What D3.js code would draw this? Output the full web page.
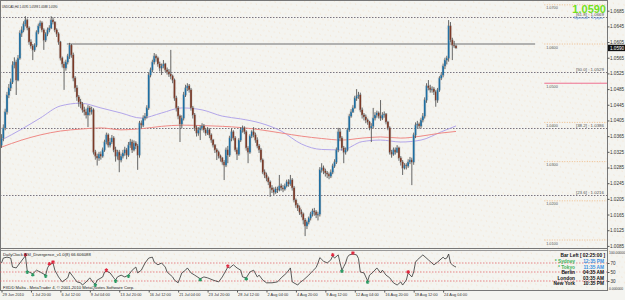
<!DOCTYPE html>
<html>
<head>
<meta charset="utf-8">
<style>
  body { margin: 0; background: #f4f4f0; }
  text { font-family: "Liberation Sans", Arial, sans-serif; }
</style>
<script src="https://d3js.org/d3.v7.min.js"></script>
</head>
<body>
<script>

// DATA: USDCAD H4, one value per bar (open = previous close)

var firstOpen = 1.0342;

var closes = [
1.0360,1.0386,1.0427,1.0470,1.0488,1.0503,1.0546,1.0554,1.0508,1.0564,
1.0628,1.0636,1.0651,1.0661,1.0641,1.0605,1.0595,1.0585,1.0597,1.0630,
1.0646,1.0654,1.0636,1.0610,1.0626,1.0636,1.0641,1.0661,1.0656,1.0636,
1.0626,1.0605,1.0564,1.0549,1.0539,1.0554,1.0569,1.0597,1.0572,1.0513,
1.0488,1.0465,1.0452,1.0447,1.0432,1.0427,1.0419,1.0437,1.0427,1.0432,
1.0324,1.0314,1.0309,1.0319,1.0314,1.0330,1.0350,1.0368,1.0342,1.0350,
1.0360,1.0330,1.0314,1.0324,1.0304,1.0314,1.0322,1.0330,1.0317,1.0342,
1.0350,1.0330,1.0347,1.0340,1.0317,1.0398,1.0393,1.0411,1.0416,1.0437,
1.0521,1.0534,1.0554,1.0569,1.0564,1.0549,1.0539,1.0544,1.0549,1.0534,
1.0529,1.0523,1.0518,1.0508,1.0462,1.0437,1.0416,1.0396,1.0411,1.0470,
1.0488,1.0493,1.0483,1.0437,1.0419,1.0386,1.0373,1.0381,1.0386,1.0391,
1.0381,1.0373,1.0381,1.0368,1.0355,1.0342,1.0330,1.0324,1.0314,1.0309,
1.0299,1.0291,1.0330,1.0317,1.0360,1.0376,1.0360,1.0330,1.0319,1.0355,
1.0381,1.0386,1.0376,1.0335,1.0324,1.0365,1.0376,1.0368,1.0355,1.0340,
1.0330,1.0304,1.0273,1.0266,1.0258,1.0248,1.0233,1.0228,1.0222,1.0230,
1.0228,1.0238,1.0233,1.0230,1.0238,1.0248,1.0243,1.0253,1.0233,1.0202,
1.0189,1.0182,1.0171,1.0166,1.0151,1.0136,1.0146,1.0156,1.0166,1.0174,
1.0171,1.0164,1.0166,1.0279,1.0284,1.0276,1.0271,1.0268,1.0263,1.0273,
1.0289,1.0299,1.0330,1.0376,1.0360,1.0335,1.0324,1.0330,1.0381,1.0416,
1.0427,1.0437,1.0462,1.0467,1.0470,1.0432,1.0419,1.0414,1.0406,1.0401,
1.0386,1.0391,1.0411,1.0419,1.0424,1.0416,1.0411,1.0419,1.0421,1.0401,
1.0386,1.0324,1.0319,1.0330,1.0324,1.0335,1.0309,1.0299,1.0284,1.0291,
1.0289,1.0299,1.0304,1.0299,1.0368,1.0393,1.0396,1.0391,1.0406,1.0416,
1.0457,1.0493,1.0488,1.0483,1.0485,1.0478,1.0457,1.0483,1.0513,1.0521,
1.0544,1.0559,1.0564,1.0646,1.0610,1.0597,1.0595,1.0590];

var highs = [
1.0370,1.0395,1.0435,1.0478,1.0498,1.0512,1.0556,1.0566,1.0560,1.0572,
1.0635,1.0645,1.0658,1.0671,1.0665,1.0645,1.0612,1.0600,1.0602,1.0635,
1.0652,1.0660,1.0658,1.0640,1.0630,1.0642,1.0648,1.0671,1.0668,1.0658,
1.0640,1.0630,1.0608,1.0568,1.0555,1.0560,1.0575,1.0603,1.0600,1.0578,
1.0518,1.0495,1.0470,1.0460,1.0452,1.0440,1.0435,1.0444,1.0442,1.0440,
1.0436,1.0330,1.0320,1.0325,1.0326,1.0336,1.0356,1.0374,1.0372,1.0360,
1.0368,1.0365,1.0338,1.0330,1.0330,1.0320,1.0330,1.0338,1.0335,1.0350,
1.0358,1.0356,1.0354,1.0352,1.0345,1.0404,1.0405,1.0418,1.0424,1.0444,
1.0528,1.0540,1.0560,1.0577,1.0574,1.0568,1.0555,1.0550,1.0559,1.0552,
1.0540,1.0536,1.0585,1.0522,1.0512,1.0468,1.0442,1.0420,1.0418,1.0478,
1.0496,1.0500,1.0498,1.0488,1.0442,1.0424,1.0392,1.0388,1.0392,1.0398,
1.0396,1.0386,1.0388,1.0385,1.0372,1.0358,1.0345,1.0334,1.0328,1.0318,
1.0312,1.0304,1.0336,1.0340,1.0366,1.0384,1.0380,1.0365,1.0336,1.0360,
1.0388,1.0392,1.0390,1.0380,1.0340,1.0370,1.0380,1.0388,1.0374,1.0362,
1.0345,1.0335,1.0308,1.0280,1.0272,1.0262,1.0252,1.0240,1.0234,1.0236,
1.0236,1.0266,1.0244,1.0240,1.0244,1.0254,1.0255,1.0266,1.0258,1.0238,
1.0206,1.0194,1.0188,1.0178,1.0170,1.0156,1.0150,1.0160,1.0172,1.0180,
1.0182,1.0176,1.0172,1.0286,1.0296,1.0290,1.0282,1.0276,1.0272,1.0280,
1.0295,1.0306,1.0336,1.0386,1.0384,1.0365,1.0340,1.0336,1.0386,1.0422,
1.0434,1.0444,1.0468,1.0485,1.0478,1.0476,1.0438,1.0424,1.0420,1.0410,
1.0404,1.0398,1.0437,1.0426,1.0430,1.0428,1.0457,1.0426,1.0428,1.0424,
1.0404,1.0390,1.0330,1.0336,1.0336,1.0342,1.0338,1.0314,1.0304,1.0296,
1.0296,1.0306,1.0312,1.0310,1.0374,1.0400,1.0404,1.0400,1.0412,1.0424,
1.0464,1.0500,1.0508,1.0496,1.0492,1.0490,1.0482,1.0488,1.0518,1.0528,
1.0550,1.0565,1.0570,1.0661,1.0656,1.0616,1.0608,1.0598];

var lows = [
1.0335,1.0352,1.0380,1.0420,1.0462,1.0480,1.0498,1.0538,1.0470,1.0505,
1.0560,1.0618,1.0630,1.0645,1.0635,1.0598,1.0588,1.0559,1.0580,1.0592,
1.0625,1.0640,1.0630,1.0585,1.0605,1.0620,1.0630,1.0638,1.0650,1.0630,
1.0618,1.0598,1.0558,1.0540,1.0483,1.0532,1.0548,1.0562,1.0565,1.0505,
1.0478,1.0455,1.0440,1.0436,1.0425,1.0418,1.0410,1.0388,1.0418,1.0420,
1.0318,1.0305,1.0290,1.0302,1.0305,1.0310,1.0325,1.0344,1.0336,1.0336,
1.0345,1.0324,1.0300,1.0305,1.0273,1.0298,1.0308,1.0315,1.0306,1.0312,
1.0335,1.0322,1.0326,1.0332,1.0279,1.0310,1.0385,1.0388,1.0405,1.0410,
1.0432,1.0515,1.0528,1.0548,1.0555,1.0542,1.0530,1.0521,1.0538,1.0528,
1.0522,1.0516,1.0510,1.0500,1.0455,1.0428,1.0408,1.0350,1.0385,1.0405,
1.0465,1.0480,1.0476,1.0430,1.0410,1.0378,1.0364,1.0366,1.0355,1.0380,
1.0374,1.0366,1.0368,1.0360,1.0348,1.0336,1.0322,1.0304,1.0308,1.0300,
1.0292,1.0253,1.0286,1.0296,1.0312,1.0352,1.0354,1.0325,1.0304,1.0315,
1.0350,1.0374,1.0370,1.0328,1.0296,1.0320,1.0360,1.0362,1.0348,1.0334,
1.0322,1.0298,1.0268,1.0258,1.0250,1.0240,1.0210,1.0220,1.0215,1.0218,
1.0220,1.0224,1.0226,1.0222,1.0226,1.0234,1.0236,1.0238,1.0226,1.0196,
1.0182,1.0174,1.0164,1.0158,1.0140,1.0110,1.0128,1.0140,1.0150,1.0160,
1.0162,1.0156,1.0150,1.0160,1.0272,1.0268,1.0262,1.0258,1.0255,1.0258,
1.0268,1.0284,1.0294,1.0324,1.0352,1.0328,1.0296,1.0318,1.0326,1.0376,
1.0412,1.0424,1.0435,1.0455,1.0460,1.0426,1.0410,1.0405,1.0398,1.0394,
1.0380,1.0350,1.0385,1.0405,1.0412,1.0410,1.0404,1.0406,1.0412,1.0395,
1.0380,1.0318,1.0310,1.0315,1.0318,1.0322,1.0302,1.0290,1.0266,1.0280,
1.0280,1.0284,1.0294,1.0240,1.0292,1.0360,1.0386,1.0384,1.0386,1.0400,
1.0410,1.0450,1.0482,1.0476,1.0476,1.0470,1.0440,1.0450,1.0478,1.0508,
1.0515,1.0536,1.0548,1.0555,1.0604,1.0559,1.0590,1.0588];

// moving averages, read at these bars
var maBars = [0, 11, 21, 32, 43, 54, 65, 76, 87, 98, 109, 120, 130, 141, 152, 163, 174, 185, 196, 206, 217, 228, 239, 247];
var maSlow = [1.0355,1.0383,1.0411,1.0442,1.0449,1.0437,1.0424,1.0411,1.0424,1.0437,1.0432,1.0416,1.0409,1.0398,1.0378,1.0345,1.0331,1.0330,1.0351,1.0355,1.0350,1.0355,1.0376,1.0391];
var maRed  = [1.0337,1.0355,1.0368,1.0378,1.0383,1.0386,1.0381,1.0384,1.0390,1.0393,1.0392,1.0390,1.0387,1.0381,1.0373,1.0365,1.0359,1.0355,1.0360,1.0363,1.0360,1.0365,1.0373,1.0377];

// price levels
var priceTicks = [1.0685,1.0645,1.0605,1.0565,1.0525,1.0485,1.0445,1.0405,1.0365,1.0325,1.0285,1.0245,1.0205,1.0165,1.0125,1.0085];
var fibLevels = [1.0669, 1.0529, 1.0386, 1.0216];
var fibNames = ["[61.8] : 1.0669", "[50.0] : 1.0529", "[38.2] : 1.0386", "[23.6] : 1.0216"];
var roundLevels = [1.0700, 1.0600, 1.0400, 1.0300, 1.0200, 1.0100];
var pinkLevel = 1.0500;
var grayLevel = 1.0600;
var lastPrice = 1.0590;

// RSI_Divergence (bar, value)
var rsiPoints = [[0,70],[1,81],[3,83],[5,81],[6,61],[8,59],[10,70],[13,86],[14,52],[15,50],[17,46],[19,54],[21,50],[24,43],[25,59],[26,66],[28,70],[29,54],
[31,39],[33,28],[36,37],[37,50],[39,39],[41,28],[43,26],[44,21],[46,28],[48,37],[50,26],[51,23],[52,32],[55,39],[56,50],[57,52],[59,48],[61,37],[62,32],
[63,39],[65,43],[67,39],[69,43],[71,54],[73,61],[74,48],[76,54],[78,70],[80,81],[82,83],[83,72],[85,66],[87,70],[89,61],[90,50],[93,39],[94,32],[96,26],
[98,48],[100,54],[101,59],[103,48],[105,43],[108,35],[110,39],[112,37],[115,32],[118,28],[120,39],[123,61],[124,59],[126,66],[128,59],[130,54],[131,39],
[133,37],[135,50],[137,54],[139,39],[140,43],[142,32],[144,26],[147,26],[150,28],[152,37],[155,48],[157,59],[158,28],[161,21],[162,26],[164,32],[167,43],
[169,52],[171,60],[172,70],[173,82],[174,78],[175,74],[177,70],[179,77],[180,86],[181,81],[183,88],[184,70],[185,54],[186,62],[187,70],[188,83],[189,88],
[191,90],[193,88],[194,80],[195,50],[197,48],[199,30],[200,43],[202,50],[204,59],[206,48],[207,54],[209,43],[211,37],[213,26],[215,21],[217,28],[218,21],
[220,32],[221,48],[223,39],[224,50],[225,72],[226,77],[229,88],[232,77],[235,66],[237,72],[240,83],[241,79],[242,81],[243,90],[244,70],[245,66],[246,63],[247,61]];
var redMarks = [[13,86],[26,66],[28,70],[57,52],[123,61],[180,86],[191,90],[221,48]];
var greenMarks = [[14,52],[17,46],[24,43],[51,23],[62,32],[69,43],[108,35],[133,37],[185,54],[199,30]];
var rsiLevels = [70, 50, 30];

// date labels every 16 bars
var dateBars = [0,16,32,48,64,80,96,112,128,144,160,176,192,208,224,240];
var dateLabels = ["29 Jun 2010","1 Jul 20:00","6 Jul 12:00","9 Jul 04:00","13 Jul 20:00","16 Jul 12:00","21 Jul 04:00","23 Jul 20:00",
  "28 Jul 12:00","2 Aug 04:00","4 Aug 20:00","9 Aug 12:00","12 Aug 04:00","16 Aug 20:00","19 Aug 12:00","24 Aug 04:00"];

// clock texts
var clockNames = ["* Sydney", "* Tokyo", "Berlin", "London", "New York"];
var clockTimes = ["12:35 PM", "11:35 AM", "04:35 AM", "03:35 AM", "10:35 PM"];

// SETUP

var width = 625, height = 300;
var axisX = 607, mainBottom = 248;

var svg = d3.select("body").append("svg").attr("width", width).attr("height", height);

var x = d3.scaleLinear().domain([0, 247]).range([1.5, 456]);
var y = d3.scaleLinear().domain([1.0085, 1.0685]).range([245.9, 10.7]);
var yr = d3.scaleLinear().domain([0, 100]).range([294.5, 249.5]);

var defs = svg.append("defs");
var pat = defs.append("pattern").attr("id", "dots").attr("patternUnits", "userSpaceOnUse")
    .attr("width", 9).attr("height", 6).attr("patternTransform", "rotate(-25)");
pat.append("circle").attr("cx", 1).attr("cy", 1).attr("r", 0.45).attr("fill", "#efc79a");
pat.append("circle").attr("cx", 5.5).attr("cy", 4).attr("r", 0.45).attr("fill", "#efc79a");

defs.append("clipPath").attr("id", "mainClip").append("rect")
    .attr("x", 0).attr("y", 0).attr("width", axisX).attr("height", mainBottom);
defs.append("clipPath").attr("id", "rsiClip").append("rect")
    .attr("x", 0).attr("y", 250).attr("width", axisX).attr("height", 40);

svg.append("rect").attr("width", width).attr("height", height).attr("fill", "#f4f4f0");
svg.append("rect").attr("width", width).attr("height", 291).attr("fill", "url(#dots)");

var main = svg.append("g").attr("clip-path", "url(#mainClip)");

// fib levels (dark dotted, full width)
main.selectAll(".fib").data(fibLevels).enter().append("line")
    .attr("x1", 0).attr("x2", axisX)
    .attr("y1", function(d) {return Math.round(y(d)) + 0.5})
    .attr("y2", function(d) {return Math.round(y(d)) + 0.5})
    .attr("stroke", "#5d5566").attr("stroke-width", 0.8).attr("stroke-dasharray", "1.5,1.5");

main.selectAll(".fibLabel").data(fibLevels).enter().append("text")
    .attr("x", 604).attr("y", function(d) {return y(d) - 1})
    .attr("text-anchor", "end").attr("font-size", 4.4).attr("fill", "#555")
    .text(function(d, i) {return fibNames[i]});

// round levels on the right
main.selectAll(".round").data(roundLevels).enter().append("line")
    .attr("x1", x(295)).attr("x2", axisX)
    .attr("y1", function(d) {return y(d)}).attr("y2", function(d) {return y(d)})
    .attr("stroke", "#eea863").attr("stroke-width", 0.7).attr("stroke-dasharray", "1,1.5");
main.append("line")
    .attr("x1", x(295)).attr("x2", axisX).attr("y1", y(pinkLevel)).attr("y2", y(pinkLevel))
    .attr("stroke", "#ef6f8f").attr("stroke-width", 1);
main.selectAll(".roundLabel").data(roundLevels.concat([pinkLevel])).enter().append("text")
    .attr("x", x(296)).attr("y", function(d) {return y(d) + 4.5})
    .attr("font-size", 3.8).attr("fill", "#555")
    .text(function(d) {return d.toFixed(4)});

// gray horizontal line at 1.0600
main.append("line")
    .attr("x1", x(35.5)).attr("x2", x(290)).attr("y1", y(grayLevel)).attr("y2", y(grayLevel))
    .attr("stroke", "#9b9b9b").attr("stroke-width", 1.5);

// moving averages
var maLine = function(vals) {
    return d3.line().curve(d3.curveMonotoneX)
        .x(function(d, i) {return x(maBars[i])})
        .y(function(d) {return y(d)})(vals);
};
main.append("path").attr("d", maLine(maSlow)).attr("fill", "none").attr("stroke", "#b3a6ea").attr("stroke-width", 1);
main.append("path").attr("d", maLine(maRed)).attr("fill", "none").attr("stroke", "#ef8a86").attr("stroke-width", 1);

// candles
var bars = closes.map(function(c, i) {
    var o = i === 0 ? firstOpen : closes[i - 1];
    return {i: i, o: o, c: c, h: Math.max(highs[i], o, c), l: Math.min(lows[i], o, c)};
});

var candle = main.selectAll(".candle").data(bars).enter().append("g");
candle.append("rect")
    .attr("x", function(d) {return x(d.i) - 1.6}).attr("width", 3.2)
    .attr("y", function(d) {return y(Math.max(d.o, d.c)) - 1})
    .attr("height", function(d) {return Math.abs(y(d.o) - y(d.c)) + 2})
    .attr("fill", "#bdbdbd").attr("opacity", 0.45);
candle.append("line")
    .attr("x1", function(d) {return x(d.i)}).attr("x2", function(d) {return x(d.i)})
    .attr("y1", function(d) {return y(d.h)}).attr("y2", function(d) {return y(d.l)})
    .attr("stroke", "#4d4d4d").attr("stroke-width", 0.85);
candle.append("rect")
    .attr("x", function(d) {return x(d.i) - 0.8}).attr("width", 1.6)
    .attr("y", function(d) {return y(Math.max(d.o, d.c))})
    .attr("height", function(d) {return Math.max(0.8, Math.abs(y(d.o) - y(d.c)))})
    .attr("fill", function(d) {return d.c >= d.o ? "#1d6fa3" : "#7b3a27"});

// title
svg.append("text").attr("x", 2).attr("y", 8).attr("font-size", 2.9).attr("fill", "#222")
    .text("USDCAD,H4  1.0595 1.0598 1.0588 1.0590");

// big price and spread
svg.append("text").attr("x", 606).attr("y", 13).attr("text-anchor", "end")
    .attr("font-size", 11).attr("font-weight", "bold").attr("fill", "#72e01c")
    .text(lastPrice.toFixed(4));
svg.append("text").attr("x", 603).attr("y", 18.5).attr("text-anchor", "end")
    .attr("font-size", 4.4).attr("fill", "#5a8ed8").text("Spread : 5 pips");

// price axis
svg.append("line").attr("x1", axisX + 0.5).attr("x2", axisX + 0.5).attr("y1", 0).attr("y2", 291)
    .attr("stroke", "#777");
var pAxis = svg.append("g").attr("transform", "translate(" + (axisX + 0.5) + ",0)")
    .call(d3.axisRight(y).tickValues(priceTicks).tickFormat(d3.format(".4f")).tickSize(2).tickSizeOuter(0));
pAxis.select(".domain").remove();
pAxis.selectAll("line").attr("stroke", "#555");
pAxis.selectAll("text").attr("font-size", 4.6).attr("fill", "#333").attr("x", 2.5).attr("font-family", "Liberation Sans, Arial, sans-serif");

svg.append("rect").attr("x", axisX + 1).attr("y", y(lastPrice) - 3.2).attr("width", 17).attr("height", 6.4).attr("fill", "#111");
svg.append("text").attr("x", axisX + 3).attr("y", y(lastPrice) + 1.7).attr("font-size", 4.6).attr("fill", "#fff")
    .text(lastPrice.toFixed(4));

// panel borders
svg.append("line").attr("x1", 0).attr("x2", axisX).attr("y1", mainBottom + 0.5).attr("y2", mainBottom + 0.5).attr("stroke", "#777");
svg.append("line").attr("x1", 0).attr("x2", axisX).attr("y1", 250.5).attr("y2", 250.5).attr("stroke", "#999");
svg.append("line").attr("x1", 0).attr("x2", axisX).attr("y1", 290.5).attr("y2", 290.5).attr("stroke", "#777");
svg.append("line").attr("x1", 0.5).attr("x2", 0.5).attr("y1", 0).attr("y2", 291).attr("stroke", "#777");
svg.append("line").attr("x1", 0).attr("x2", axisX).attr("y1", 0.5).attr("y2", 0.5).attr("stroke", "#777");

// RSI panel
var rsi = svg.append("g").attr("clip-path", "url(#rsiClip)");
rsi.selectAll(".lvl").data(rsiLevels).enter().append("line")
    .attr("x1", 0).attr("x2", axisX)
    .attr("y1", function(d) {return yr(d)}).attr("y2", function(d) {return yr(d)})
    .attr("stroke", "#e0575f").attr("stroke-width", 0.7).attr("stroke-dasharray", "1.5,1.5");
rsi.append("path")
    .attr("d", d3.line().x(function(d) {return x(d[0])}).y(function(d) {return yr(d[1])})(rsiPoints))
    .attr("fill", "none").attr("stroke", "#333").attr("stroke-width", 0.8);
rsi.selectAll(".red").data(redMarks).enter().append("path")
    .attr("d", d3.symbol().type(d3.symbolAsterisk).size(9))
    .attr("transform", function(d) {return "translate(" + x(d[0]) + "," + (yr(d[1]) - 1) + ")"})
    .attr("stroke", "#e0283f").attr("stroke-width", 1.1);
rsi.selectAll(".green").data(greenMarks).enter().append("path")
    .attr("d", d3.symbol().type(d3.symbolAsterisk).size(9))
    .attr("transform", function(d) {return "translate(" + x(d[0]) + "," + (yr(d[1]) + 1) + ")"})
    .attr("stroke", "#2a9a63").attr("stroke-width", 1.1);

svg.append("text").attr("x", 3).attr("y", 255.5).attr("font-size", 4.2).attr("fill", "#222")
    .text("DailyClock   RSI_Divergence_v1.0(8) 66.606088");
svg.append("text").attr("x", 3).attr("y", 289).attr("font-size", 4.2).attr("fill", "#222")
    .text("FXDD Malta - MetaTrader 4, \u00a9 2001-2010 MetaQuotes Software Corp.");

// clock block
svg.append("text").attr("x", 605).attr("y", 257).attr("text-anchor", "end")
    .attr("font-size", 4.8).attr("font-weight", "bold").attr("fill", "#111")
    .text("Bar Left [ 02:25:00 ]");
svg.selectAll(".cname").data(clockNames).enter().append("text")
    .attr("x", 575).attr("y", function(d, i) {return 263 + i * 5.6})
    .attr("text-anchor", "end").attr("font-size", 4.8).attr("font-weight", "bold")
    .attr("fill", function(d, i) {return i < 2 ? "#3fb35a" : "#111"})
    .text(function(d) {return d});
svg.selectAll(".ctime").data(clockTimes).enter().append("text")
    .attr("x", 604).attr("y", function(d, i) {return 263 + i * 5.6})
    .attr("text-anchor", "end").attr("font-size", 4.8).attr("font-weight", "bold")
    .attr("fill", function(d, i) {return i < 2 ? "#3a8fe0" : "#111"})
    .text(function(d) {return d});

// RSI axis labels
var rAxis = svg.append("g").attr("transform", "translate(" + (axisX + 0.5) + ",0)")
    .call(d3.axisRight(yr).tickValues(rsiLevels).tickFormat(d3.format("d")).tickSize(2).tickSizeOuter(0));
rAxis.select(".domain").remove();
rAxis.selectAll("line").attr("stroke", "#555");
rAxis.selectAll("text").attr("font-size", 4.6).attr("fill", "#333").attr("x", 3).attr("font-family", "Liberation Sans, Arial, sans-serif");
svg.append("text").attr("x", 609).attr("y", 254).attr("font-size", 3.4).attr("fill", "#333").text("100.00000");
svg.append("text").attr("x", 609).attr("y", 290).attr("font-size", 3.4).attr("fill", "#333").text("0.000000");

// date axis
var dAxis = svg.append("g").attr("transform", "translate(0,290.5)")
    .call(d3.axisBottom(x).tickValues(dateBars).tickFormat(function(d, i) {return dateLabels[i]}).tickSize(2).tickSizeOuter(0));
dAxis.select(".domain").remove();
dAxis.selectAll("line").attr("stroke", "#555");
dAxis.selectAll("text").attr("font-size", 3.9).attr("fill", "#333").attr("text-anchor", "start")
    .attr("dx", 0.5).attr("y", 3).attr("font-family", "Liberation Sans, Arial, sans-serif");

</script>
</body>
</html>
